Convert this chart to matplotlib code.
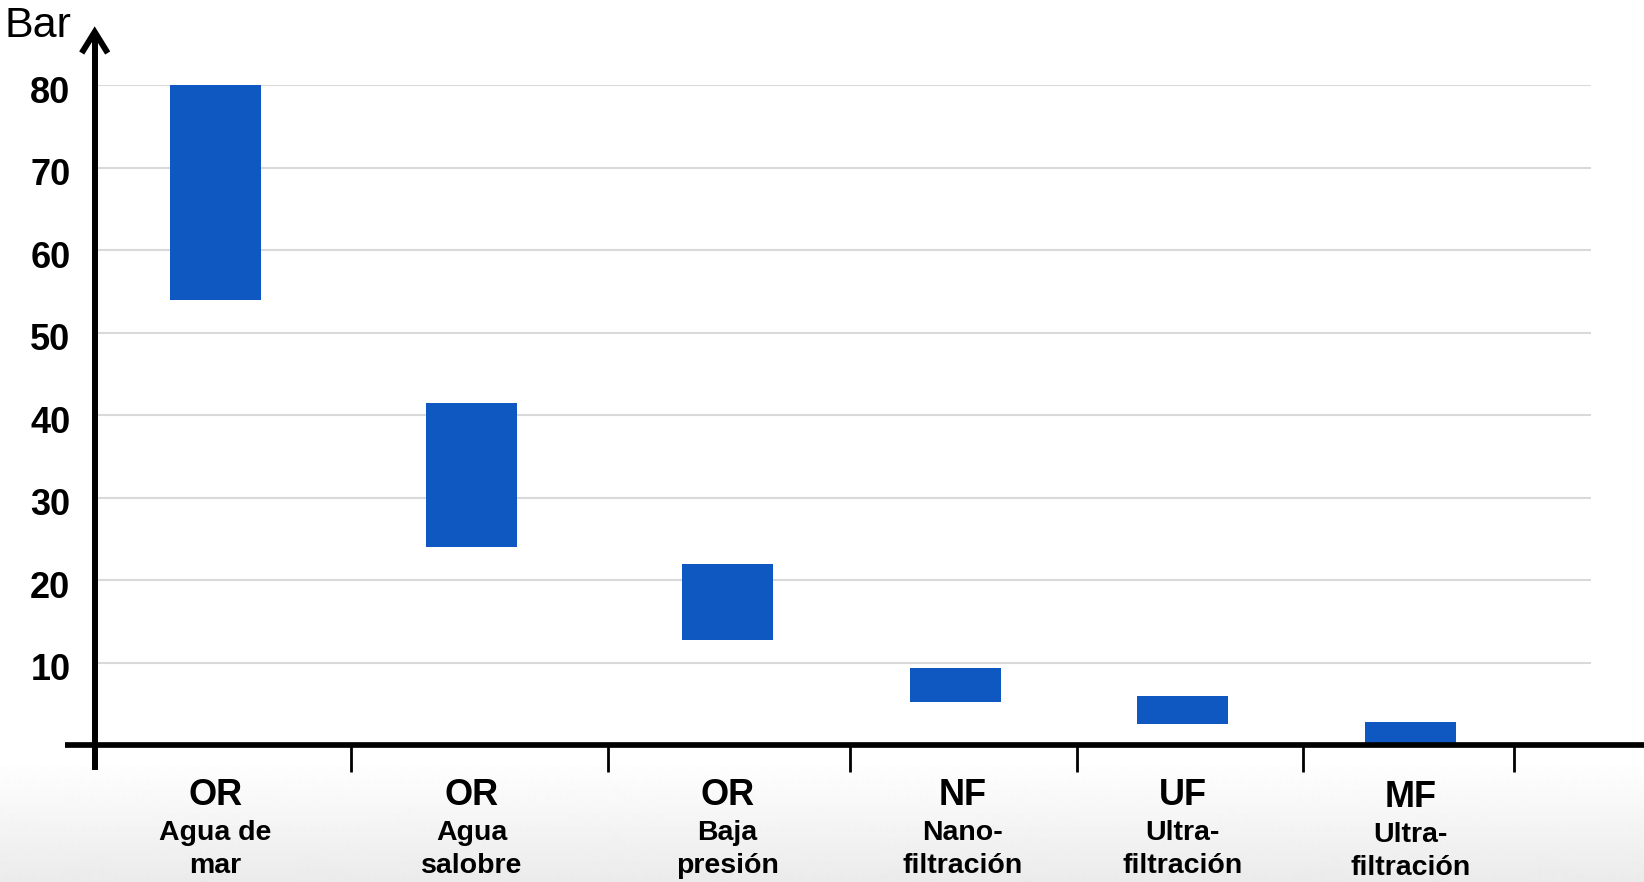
import numpy as np
import matplotlib
matplotlib.use("Agg")
import matplotlib.pyplot as plt
from matplotlib.transforms import ScaledTranslation

# Operating pressure ranges (bar) per membrane process
codes = ["OR", "OR", "OR", "NF", "UF", "MF"]
desc_top = ["Agua de", "Agua", "Baja", "Nano-", "Ultra-", "Ultra-"]
desc_bottom = ["mar", "salobre", "presión", "filtración", "filtración", "filtración"]
pressure_low = [54, 24, 12.8, 5.2, 2.6, 0]
pressure_high = [80, 41.5, 22, 9.4, 6, 2.8]
y_ticks = [10, 20, 30, 40, 50, 60, 70, 80]

# Layout (in slot units along the baseline)
slot_centres = [0, 1.125, 2.25, 3.25, 4.25, 5.25]
separators = [0.595, 1.725, 2.79, 3.785, 4.78, 5.705]
label_shift = [0, 0, 0, 0.032, 0, 0]
label_drop = [0, 0, 0, 0, 0, 0.25]

BLUE = "#0F58C2"
FONT = "Liberation Sans"

W, H, DPI = 1644, 882, 100
fig = plt.figure(figsize=(W / DPI, H / DPI), dpi=DPI)

# soft grey fade along the bottom of the canvas
bg = fig.add_axes([0, 0, 1, 1], zorder=-10)
rows = np.arange(H)
shade = np.ones(H)
start = 760
ramp = rows >= start
shade[ramp] = 1 - (rows[ramp] - start) / (H - start) * (1 - 0.92)
bg.imshow(np.repeat(shade[:, None], 4, axis=1), cmap="gray", vmin=0, vmax=1,
          aspect="auto", extent=[0, 1, 0, 1], interpolation="bilinear")
bg.axis("off")

# plotting area: y from 0 to 80, x from the y-axis to the end of the gridlines
px_per_unit = 8.25
y0_px, y80_px = 745.3, 85.3
left_px, right_px = 94.7, 1591
slot_px = 227.56
ax = fig.add_axes([left_px / W, 1 - y0_px / H,
                   (right_px - left_px) / W, (y0_px - y80_px) / H])
ax.patch.set_alpha(0)
x_axis = -0.531
ax.set_xlim(x_axis, x_axis + (right_px - left_px) / slot_px)
ax.set_ylim(0, 80)
for s in ax.spines.values():
    s.set_visible(False)

ax.set_xticks([])
ax.set_yticks(y_ticks)
ax.set_yticklabels([str(t) for t in y_ticks], fontsize=26, fontweight="bold",
                   fontfamily=FONT)
ax.tick_params(axis="y", length=0, pad=17.5)
nudge = ScaledTranslation(0, -3 / 72, fig.dpi_scale_trans)
for lab in ax.get_yticklabels():
    lab.set_transform(lab.get_transform() + nudge)
ax.yaxis.grid(True, color="#d9d9d9", linewidth=1.5)
ax.set_axisbelow(True)

# floating bars for each pressure range
heights = [h - l for l, h in zip(pressure_low, pressure_high)]
ax.bar(slot_centres, heights, bottom=pressure_low, width=0.4, color=BLUE,
       zorder=2)

# baseline and category separators
ax.plot([x_axis - 30 / slot_px, x_axis + (W - left_px) / slot_px], [0, 0],
        color="black", lw=4.1, clip_on=False, zorder=4, solid_capstyle="butt")
ax.vlines(separators, 0, -26.5 / px_per_unit, color="black", lw=2,
          clip_on=False, zorder=4)

# vertical axis with an open arrow head
tip = (y0_px - 32) / px_per_unit
arm_dx = 13 / slot_px
arm_dy = 21 / px_per_unit
ax.plot([x_axis, x_axis], [-25 / px_per_unit, tip - 0.3], color="black",
        lw=4.3, clip_on=False, zorder=5, solid_capstyle="butt")
ax.plot([x_axis - arm_dx, x_axis, x_axis + arm_dx],
        [tip - arm_dy, tip, tip - arm_dy], color="black", lw=4.3,
        clip_on=False, zorder=5, solid_joinstyle="miter",
        solid_capstyle="butt")

fig.text(4 / W, 1 - 37 / H, "Bar", fontsize=31, fontfamily=FONT,
         ha="left", va="baseline")

# category labels under the baseline
for x, c, d1, d2, dx, dy in zip(slot_centres, codes, desc_top, desc_bottom,
                                label_shift, label_drop):
    ax.text(x + dx, -7.2 - dy, c, ha="center", va="baseline", fontsize=26,
            fontweight="bold", fontfamily=FONT, clip_on=False)
    ax.text(x + dx, -11.5 - dy, d1, ha="center", va="baseline", fontsize=20.5,
            fontweight="bold", fontfamily=FONT, clip_on=False)
    ax.text(x + dx, -15.5 - dy, d2, ha="center", va="baseline", fontsize=20.5,
            fontweight="bold", fontfamily=FONT, clip_on=False)

fig.savefig("out.png", dpi=DPI)
